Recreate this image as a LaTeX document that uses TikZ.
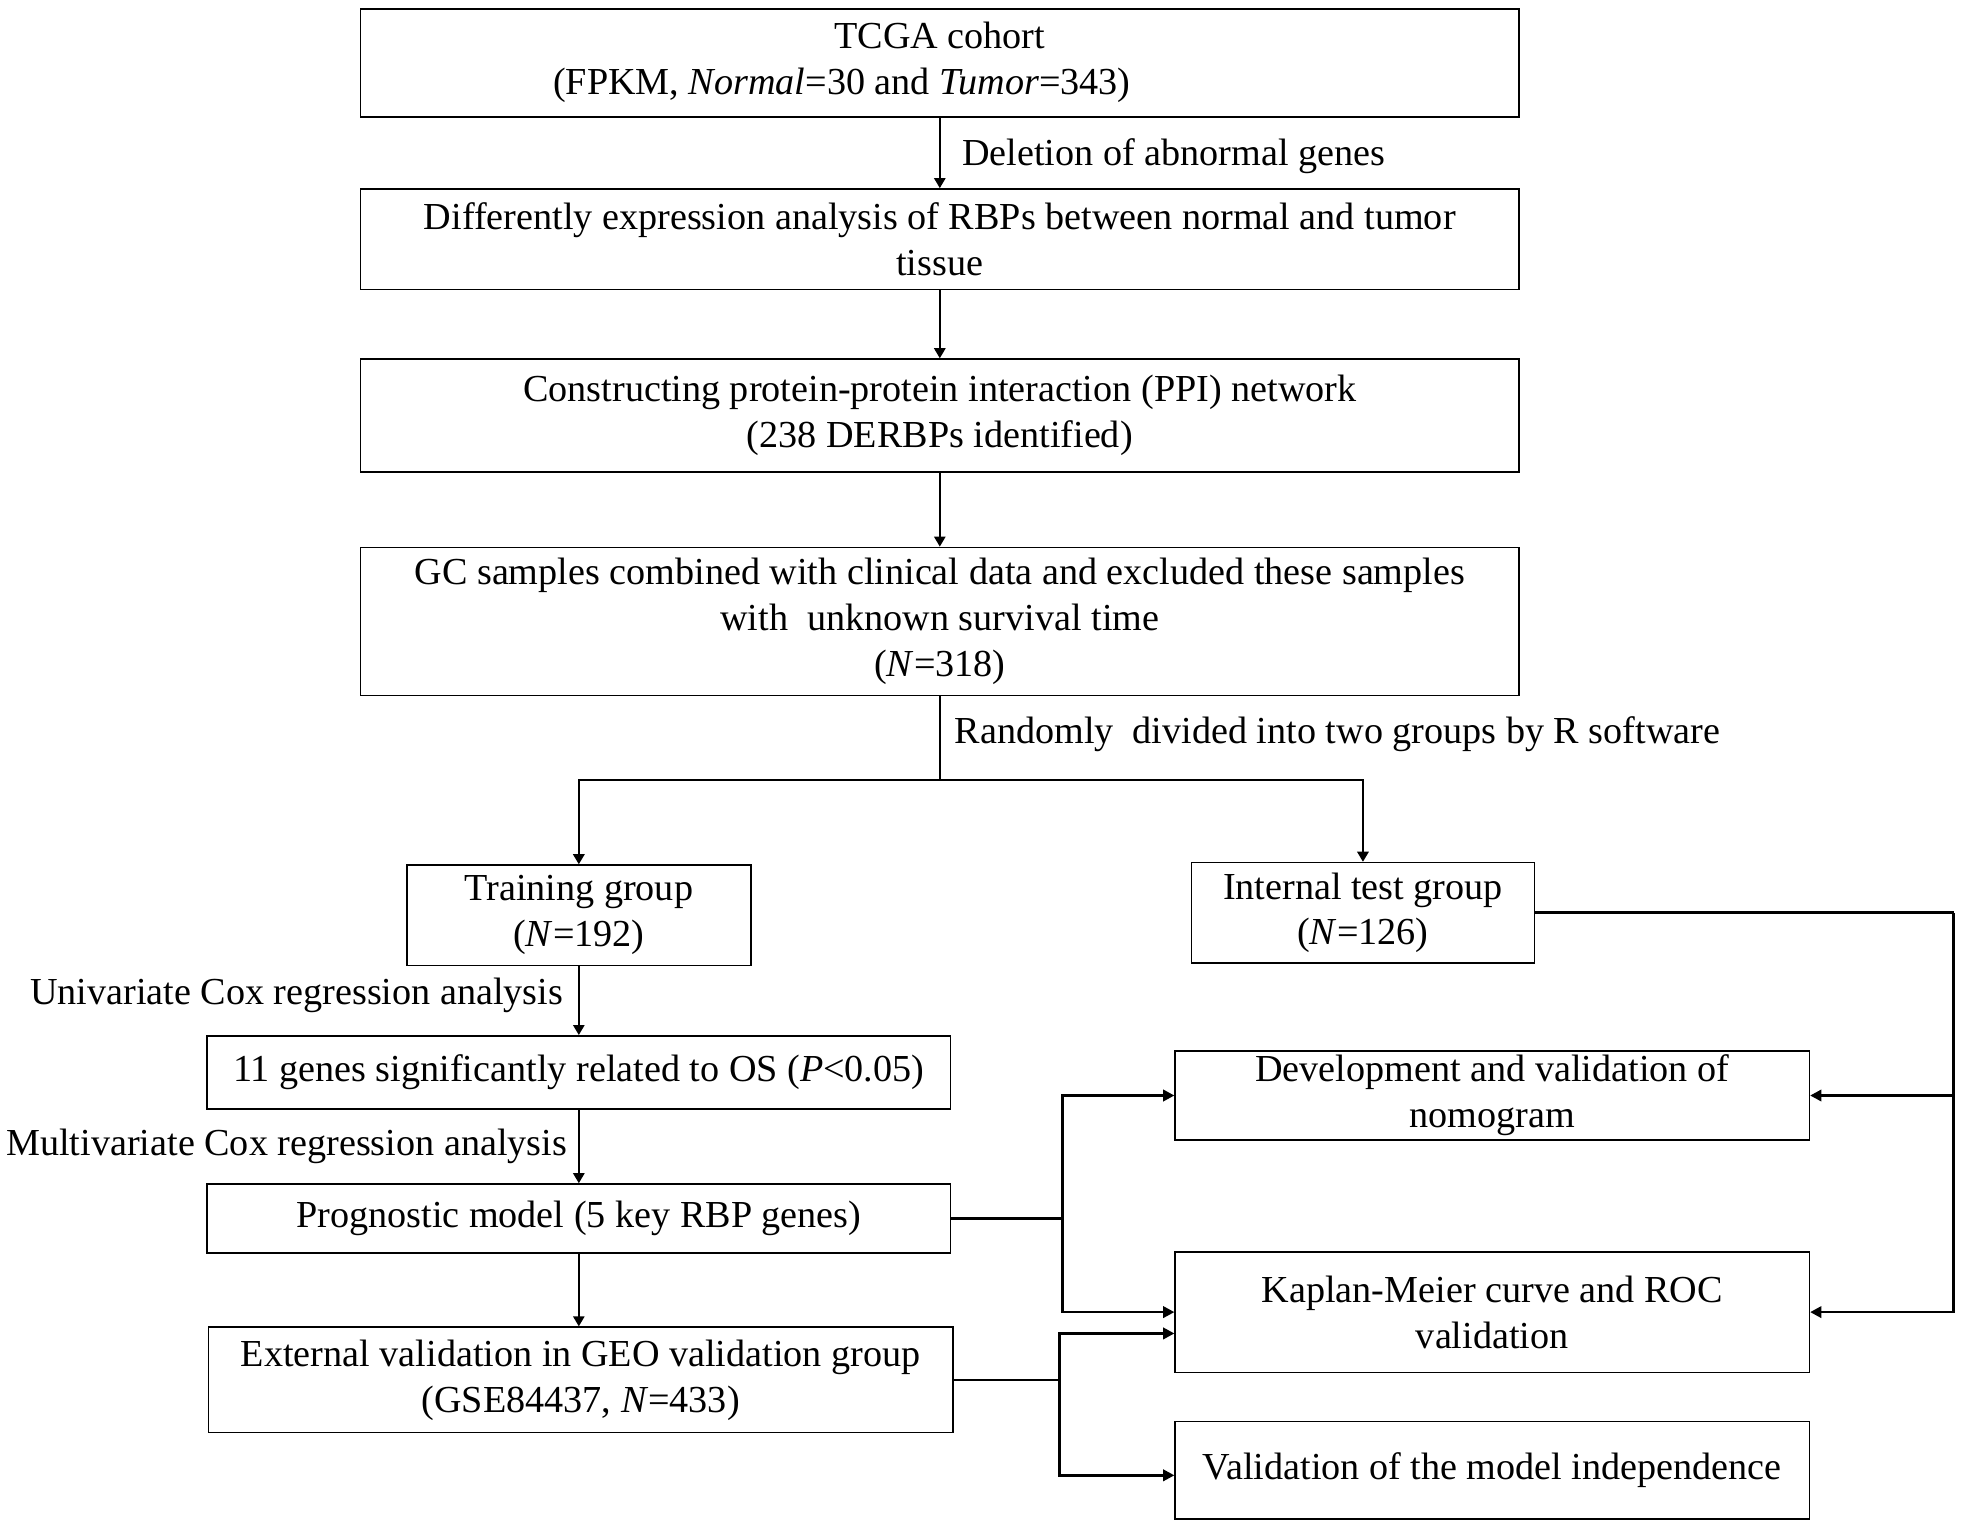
\documentclass[tikz,border=0pt]{standalone}
\usepackage{fontspec}
\setmainfont{Liberation Serif}
\usetikzlibrary{arrows.meta}
\newcommand{\figfont}{\fontsize{15.2pt}{18.3pt}\selectfont}
\begin{document}
\begin{tikzpicture}[x=0.5pt,y=-0.5pt,
  box/.style={draw,line width=0.65pt,inner sep=0pt,align=center,font=\figfont},
  lbl/.style={inner sep=0pt,font=\figfont},
  arr/.style={line width=0.75pt,-{Triangle[length=4pt,width=4.5pt]}},
  conn/.style={line width=1.1pt},
  carr/.style={line width=1.1pt,-{Triangle[length=4.5pt,width=4.5pt]}}]
\useasboundingbox (0,0) rectangle (1565,1215.4);
% boxes
\node[box,minimum width=461.5pt,minimum height=43pt] (b1) at (748.5,50) {TCGA cohort\\(FPKM, \textit{Normal}=30 and \textit{Tumor}=343)\hspace*{78pt}};
\node[box,minimum width=461.5pt,minimum height=40pt] (b2) at (748.5,190.5) {Differently expression analysis of RBPs between normal and tumor\\tissue};
\node[box,minimum width=461.5pt,minimum height=45pt] (b3) at (748.5,331) {Constructing protein-protein interaction (PPI) network\\(238 DERBPs identified)};
\node[box,minimum width=461.5pt,minimum height=59pt] (b4) at (748.5,495) {GC samples combined with clinical data and excluded these samples\\with\ \ unknown survival time\\(\textit{N}=318)};
\node[box,minimum width=137pt,minimum height=40pt] (train) at (461,729) {Training group\\(\textit{N}=192)};
\node[box,minimum width=136.5pt,minimum height=40pt] (intl) at (1085.5,727) {Internal test group\\(\textit{N}=126)};
\node[box,minimum width=296pt,minimum height=29pt] (genes) at (461,854) {11 genes significantly related to OS (\textit{P}<0.05)};
\node[box,minimum width=296pt,minimum height=27.5pt] (prog) at (461,970.5) {Prognostic model (5 key RBP genes)};
\node[box,minimum width=296.5pt,minimum height=42pt] (ext) at (462.5,1099) {External validation in GEO validation group\\(GSE84437, \textit{N}=433)};
\node[box,minimum width=252.5pt,minimum height=35.5pt] (dev) at (1188.5,872.5) {Development and validation of\\nomogram};
\node[box,minimum width=252.5pt,minimum height=48pt] (km) at (1188.5,1045) {Kaplan-Meier curve and ROC\\validation};
\node[box,minimum width=252.5pt,minimum height=39pt] (valid) at (1188.5,1171) {Validation of the model independence};
% labels
\node[lbl,anchor=west] (ldel) at (766,124) {Deletion of abnormal genes};
\node[lbl,anchor=west] (lrand) at (760,585) {Randomly\ \ divided into two groups by R software};
\node[lbl,anchor=east] (luni) at (449,793) {Univariate Cox regression analysis};
\node[lbl,anchor=east] (lmul) at (452,913) {Multivariate Cox regression analysis};
% connectors
\coordinate (split) at (748.5,621);
\coordinate (j1) at (846,970.5);
\coordinate (j2) at (844,1099);
\coordinate (j3) at (1556,727);
\draw[arr] (b1.south) -- (b2.north);
\draw[arr] (b2.south) -- (b3.north);
\draw[arr] (b3.south) -- (b4.north);
\draw[line width=0.85pt] (b4.south) -- (split);
\draw[arr,line width=0.85pt] (split) -| (train.north);
\draw[arr,line width=0.85pt] (split) -| (intl.north);
\draw[arr] (train.south) -- (genes.north);
\draw[arr] (genes.south) -- (prog.north);
\draw[arr] (prog.south) -- (prog.south |- ext.north);
\draw[conn] (prog.east) -- (j1);
\draw[carr] (j1) |- (dev.west);
\draw[carr] (j1) |- (km.west);
\draw[conn] (ext.east) -- (j2);
\draw[carr] (j2) |- ([yshift=-8.5pt]km.west);
\draw[carr] (j2) |- ([yshift=-2pt]valid.west);
\draw[conn] (intl.east) -- (j3);
\draw[carr] (j3) |- (km.east);
\draw[carr] (j3 |- dev.east) -- (dev.east);
\end{tikzpicture}
\end{document}
